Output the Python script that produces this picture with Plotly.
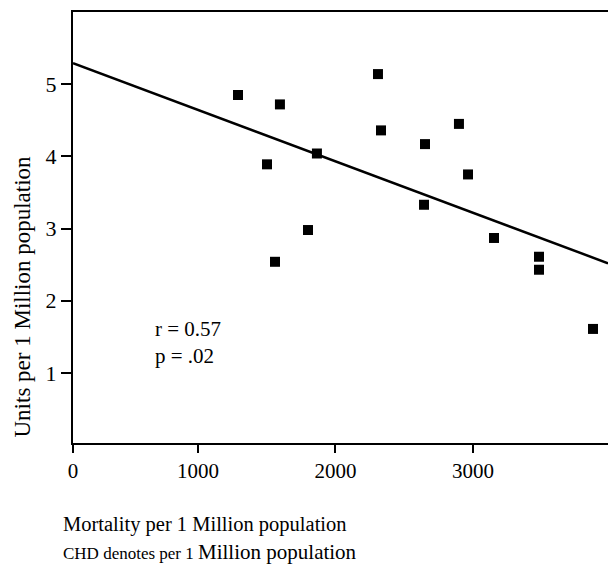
import plotly.graph_objects as go

# Data
mortality = [1291, 1596, 1502, 2309, 2331, 2898, 2651, 1865, 2964, 2644, 1800, 3153, 1560, 3480, 3480, 3873]
units = [4.85, 4.72, 3.89, 5.14, 4.36, 4.45, 4.17, 4.04, 3.75, 3.33, 2.98, 2.87, 2.54, 2.61, 2.43, 1.61]

fit_intercept = 5.355
fit_slope = -0.000712

x_range = [91, 3982]
y_range = [0.03, 6.0]
x_tickvals = [91, 1000, 2000, 3000]
x_ticktext = ["0", "1000", "2000", "3000"]
y_tickvals = [1, 2, 3, 4, 5]

line_x = x_range
line_y = [fit_intercept + fit_slope * v for v in line_x]

FONT = "Liberation Serif, Times New Roman, serif"

fig = go.Figure()
fig.add_trace(go.Scatter(x=line_x, y=line_y, mode="lines",
                         line=dict(color="black", width=2.5), showlegend=False))
fig.add_trace(go.Scatter(x=mortality, y=units, mode="markers",
                         marker=dict(symbol="square", size=10, color="black"), showlegend=False))

fig.update_layout(
    width=608, height=567,
    margin=dict(l=73, r=0, t=12, b=124),
    paper_bgcolor="white", plot_bgcolor="white",
    font=dict(family=FONT, color="black", size=21),
    xaxis=dict(range=x_range, tickvals=x_tickvals, ticktext=x_ticktext,
               showgrid=False, zeroline=False, showline=True, linecolor="black", linewidth=2,
               mirror=True, ticks="outside", ticklen=8, tickwidth=2, tickcolor="black",
               tickfont=dict(family=FONT, size=21)),
    yaxis=dict(range=y_range, tickvals=y_tickvals,
               showgrid=False, zeroline=False, showline=True, linecolor="black", linewidth=2,
               ticks="outside", ticklen=10, tickwidth=2, tickcolor="black",
               tickfont=dict(family=FONT, size=22)),
    annotations=[
        dict(text="Units per 1 Million population", textangle=-90, xref="paper", yref="paper",
             x=(22 - 73) / 535, y=(443 - 296.5) / 431, xanchor="center", yanchor="middle",
             showarrow=False, font=dict(family=FONT, size=23)),
        dict(text="r = 0.57<br>p = .02", xref="paper", yref="paper",
             x=(153 - 73) / 535, y=(443 - 342) / 431, xanchor="left", yanchor="middle", align="left",
             showarrow=False, font=dict(family=FONT, size=21)),
        dict(text="Mortality per 1 Million population", xref="paper", yref="paper",
             x=(61 - 73) / 535, y=(443 - 524) / 431, xanchor="left", yanchor="middle",
             showarrow=False, font=dict(family=FONT, size=20.5)),
        dict(text="<span style='font-size:17px'>CHD denotes per 1 </span>Million population",
             xref="paper", yref="paper",
             x=(61 - 73) / 535, y=(443 - 552) / 431, xanchor="left", yanchor="middle",
             showarrow=False, font=dict(family=FONT, size=21)),
    ],
)

fig.write_html("out.html", config={"displayModeBar": False})

# remove default page margin so the figure fills the window exactly
with open("out.html", "r", encoding="utf-8") as f:
    html = f.read()
html = html.replace("<body>", "<body style=\"margin:0;overflow:hidden\">", 1)
with open("out.html", "w", encoding="utf-8") as f:
    f.write(html)
